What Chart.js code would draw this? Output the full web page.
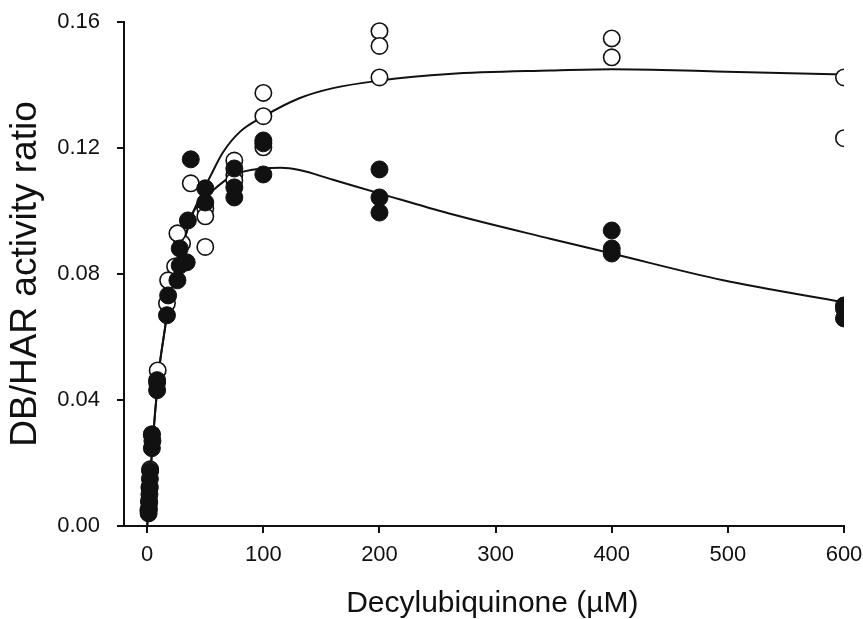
<!DOCTYPE html>
<html>
<head>
<meta charset="utf-8">
<script src="https://cdn.jsdelivr.net/npm/chart.js@4.4.1/dist/chart.umd.min.js"></script>
<style>
  body { margin: 0; background: #fff; }
  #wrap { width: 863px; height: 619px; position: relative; }
</style>
</head>
<body>
<div id="wrap"><canvas id="ubqChart"></canvas></div>
<script>
// valores (concentracion en uM, ratio DB/HAR)
const openX = [600, 600, 400, 400, 200, 200, 200, 100, 100, 100, 75, 75, 75, 50, 50, 50, 37.5, 30, 26, 24, 18, 17, 9, 8.5, 4, 2.5, 2, 1.5, 1];
const openY = [0.1424, 0.1231, 0.1548, 0.1488, 0.1571, 0.1524, 0.1424, 0.1375, 0.1301, 0.1202, 0.1160, 0.1115, 0.1097, 0.1008, 0.0983, 0.0886, 0.1088, 0.0897, 0.0929, 0.0824, 0.0780, 0.0707, 0.0494, 0.0455, 0.0290, 0.0180, 0.0120, 0.0080, 0.0050];

const filledX = [600, 600, 600, 400, 400, 400, 200, 200, 200, 100, 100, 100, 75, 75, 75, 50, 50, 37.5, 35, 28, 34, 28, 26, 18, 17, 8.5, 8.5, 4, 4.5, 4, 2.5, 2.3, 2.1, 1.9, 1.7, 1.5, 1.2];
const filledY = [0.0700, 0.0690, 0.0659, 0.0938, 0.0881, 0.0865, 0.1132, 0.1043, 0.0995, 0.1224, 0.1215, 0.1116, 0.1135, 0.1075, 0.1043, 0.1072, 0.1027, 0.1164, 0.0970, 0.0881, 0.0837, 0.0827, 0.0780, 0.0732, 0.0669, 0.0463, 0.0431, 0.0291, 0.0270, 0.0247, 0.0175, 0.0150, 0.0125, 0.0100, 0.0075, 0.0055, 0.0040];

// curvas ajustadas, leidas punto a punto de la figura
const curveOpenX = [0, 3, 5, 7, 9, 11, 15, 18, 24, 28, 32, 40, 45, 55, 65, 80, 100, 131, 160, 200, 260, 347, 400, 490, 600];
const curveOpenY = [0, 0.018, 0.028, 0.037, 0.045, 0.052, 0.062, 0.070, 0.080, 0.086, 0.091, 0.100, 0.104, 0.1115, 0.1185, 0.1252, 0.1300, 0.1358, 0.1390, 0.1414, 0.1435, 0.1446, 0.1450, 0.1443, 0.1433];
const curveFilledX = [0, 3, 5, 7, 9, 11, 15, 18, 24, 28, 32, 40, 45, 55, 75, 100, 115, 131, 160, 200, 260, 347, 400, 496, 600];
const curveFilledY = [0, 0.018, 0.028, 0.037, 0.045, 0.052, 0.062, 0.070, 0.080, 0.086, 0.091, 0.100, 0.102, 0.106, 0.1115, 0.1135, 0.1137, 0.1130, 0.1099, 0.1056, 0.0992, 0.0912, 0.0865, 0.0780, 0.0710];

const xTicks = [0, 100, 200, 300, 400, 500, 600];
const yTicks = [0, 0.04, 0.08, 0.12, 0.16];

const INK = "#111111";
const FONT = "'Liberation Sans', Arial, sans-serif";

function toPoints(xs, ys) {
  return xs.map((x, i) => ({ x: x, y: ys[i] }));
}

const ctx = document.getElementById("ubqChart").getContext("2d");
const ubqChart = new Chart(ctx, {
  type: "scatter",
  data: {
    datasets: [
      {
        label: "filled",
        data: toPoints(filledX, filledY),
        backgroundColor: INK,
        borderColor: INK,
        borderWidth: 1,
        pointRadius: 8.5,
        order: 0,
      },
      {
        label: "open",
        data: toPoints(openX, openY),
        backgroundColor: "#ffffff",
        borderColor: INK,
        borderWidth: 1.6,
        pointRadius: 8.2,
        order: 1,
      },
      {
        label: "fit open",
        data: toPoints(curveOpenX, curveOpenY),
        showLine: true,
        cubicInterpolationMode: "monotone",
        borderColor: INK,
        borderWidth: 2,
        pointRadius: 0,
        fill: false,
        order: 2,
      },
      {
        label: "fit filled",
        data: toPoints(curveFilledX, curveFilledY),
        showLine: true,
        cubicInterpolationMode: "monotone",
        borderColor: INK,
        borderWidth: 2,
        pointRadius: 0,
        fill: false,
        order: 3,
      },
    ],
  },
  options: {
    animation: false,
    responsive: true,
    maintainAspectRatio: false,
    layout: { padding: { top: 22, right: 19, left: 0, bottom: 0 } },
    plugins: {
      legend: { display: false },
      tooltip: { enabled: false },
    },
    scales: {
      x: {
        type: "linear",
        min: -20,
        max: 600,
        afterBuildTicks: (scale) => {
          scale.ticks = xTicks.map((v) => ({ value: v }));
        },
        afterFit: (scale) => {
          scale.height = 93;
          scale.paddingLeft = 0;
          scale.paddingRight = 0;
        },
        border: { display: true, color: INK, width: 2 },
        grid: { drawOnChartArea: false, drawTicks: true, tickLength: 7, color: INK, lineWidth: 2 },
        ticks: {
          color: INK,
          padding: 9,
          font: { family: FONT, size: 22 },
          callback: (v) => String(v),
        },
        title: {
          display: true,
          text: "\u00a0\u00a0Decylubiquinone (µM)",
          color: INK,
          font: { family: FONT, size: 30, lineHeight: 1 },
          padding: { top: 0, bottom: 0 },
        },
      },
      y: {
        type: "linear",
        min: 0,
        max: 0.16,
        afterBuildTicks: (scale) => {
          scale.ticks = yTicks.map((v) => ({ value: v }));
        },
        afterFit: (scale) => {
          scale.width = 124;
          scale.paddingTop = 0;
          scale.paddingBottom = 0;
        },
        border: { display: true, color: INK, width: 2 },
        grid: { drawOnChartArea: false, drawTicks: true, tickLength: 7, color: INK, lineWidth: 2 },
        ticks: {
          color: INK,
          padding: 17,
          font: { family: FONT, size: 22 },
          callback: (v) => v.toFixed(2),
        },
        title: {
          display: true,
          text: "DB/HAR activity ratio",
          color: INK,
          font: { family: FONT, size: 37, lineHeight: 1 },
          padding: { top: 7, bottom: 0 },
        },
      },
    },
  },
});
</script>
</body>
</html>
